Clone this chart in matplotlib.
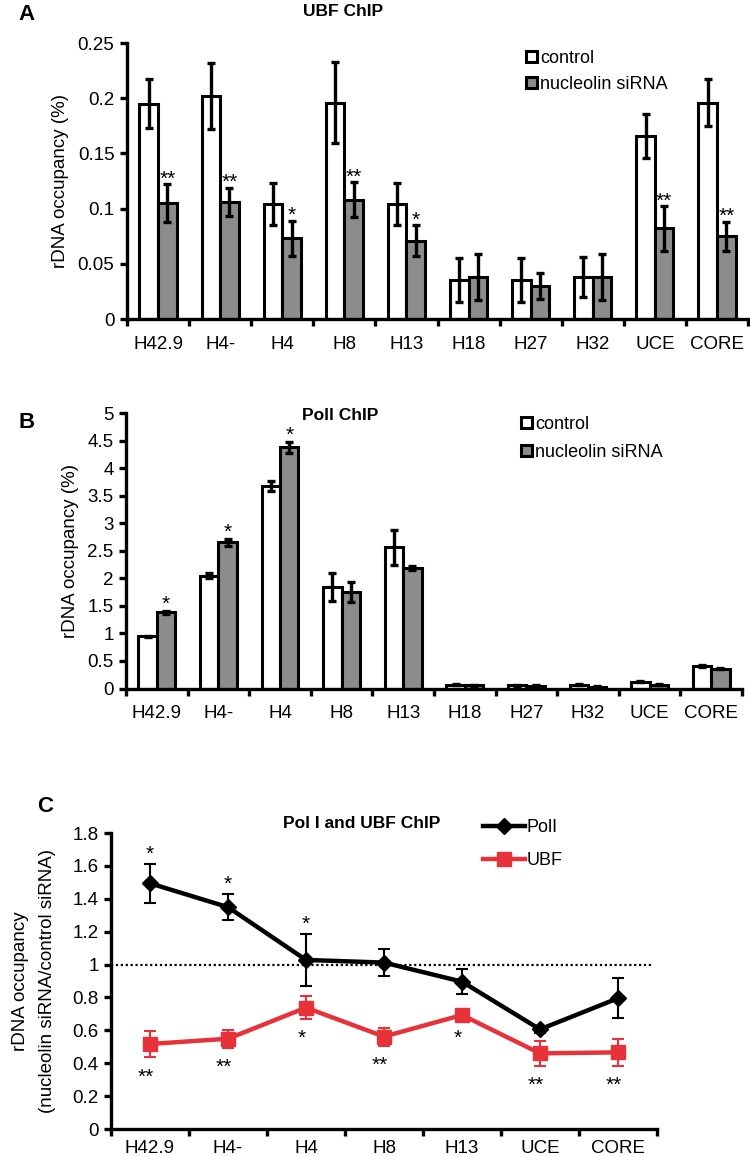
import matplotlib
matplotlib.use("Agg")
import matplotlib.pyplot as plt
import numpy as np
from matplotlib.ticker import FuncFormatter, FixedLocator
from matplotlib.patches import Patch
from matplotlib.lines import Line2D

plt.rcParams['font.family'] = ['Liberation Sans', 'DejaVu Sans']

# ---------------- data ----------------
cats_ab = ["H42.9", "H4-", "H4", "H8", "H13", "H18", "H27", "H32", "UCE", "CORE"]

ubf_ctrl = [0.195, 0.202, 0.104, 0.196, 0.104, 0.035, 0.035, 0.038, 0.166, 0.196]
ubf_ctrl_err = [0.022, 0.030, 0.019, 0.037, 0.019, 0.020, 0.020, 0.018, 0.020, 0.021]
ubf_sirna = [0.105, 0.106, 0.073, 0.108, 0.071, 0.038, 0.030, 0.038, 0.082, 0.075]
ubf_sirna_err = [0.017, 0.013, 0.016, 0.016, 0.014, 0.021, 0.012, 0.021, 0.020, 0.013]
ubf_sig = ["**", "**", "*", "**", "*", "", "", "", "**", "**"]

pol_ctrl = [0.95, 2.05, 3.68, 1.84, 2.56, 0.07, 0.06, 0.07, 0.12, 0.41]
pol_ctrl_err = [0.01, 0.04, 0.09, 0.25, 0.32, 0.01, 0.01, 0.01, 0.01, 0.02]
pol_sirna = [1.38, 2.65, 4.38, 1.75, 2.19, 0.06, 0.05, 0.03, 0.07, 0.36]
pol_sirna_err = [0.02, 0.06, 0.10, 0.18, 0.04, 0.01, 0.01, 0.01, 0.01, 0.01]
pol_sig = ["*", "*", "*", "", "", "", "", "", "", ""]

cats_c = ["H42.9", "H4-", "H4", "H8", "H13", "UCE", "CORE"]
ratio_pol = [1.494, 1.349, 1.028, 1.012, 0.896, 0.606, 0.795]
ratio_pol_err = [0.12, 0.08, 0.157, 0.08, 0.076, 0.02, 0.122]
ratio_ubf = [0.517, 0.549, 0.738, 0.562, 0.693, 0.460, 0.466]
ratio_ubf_err = [0.08, 0.055, 0.068, 0.055, 0.02, 0.074, 0.08]
ratio_pol_sig = ["*", "*", "*", "", "", "", ""]
ratio_ubf_sig = ["**", "**", "*", "**", "*", "**", "**"]

# ---------------- figure ----------------
W, H = 750, 1157
fig = plt.figure(figsize=(W / 100, H / 100), dpi=100)

def fx(px):
    return px / W

def fy(py):
    return 1 - py / H

def make_ax(l, r, t, b):
    return fig.add_axes([fx(l), fy(b), fx(r) - fx(l), fy(t) - fy(b)])

fmt = FuncFormatter(lambda v, p: ("%g" % round(v, 3)))
GRAY = "#8c8c8c"
RED = "#e8323a"
TICKFS = 13.5
LW = 2.4
STARFS = 15


def style_axes(ax, n):
    for s in ["top", "right"]:
        ax.spines[s].set_visible(False)
    for s in ["left", "bottom"]:
        ax.spines[s].set_linewidth(LW)
    ax.set_xlim(0, n)
    ax.xaxis.set_major_locator(FixedLocator(np.arange(n) + 0.5))
    ax.xaxis.set_minor_locator(FixedLocator(np.arange(n + 1)))
    ax.tick_params(axis="x", which="major", length=0, pad=12, labelsize=TICKFS)
    ax.tick_params(axis="x", which="minor", length=5, width=LW, direction="out")
    ax.tick_params(axis="y", which="major", length=5, width=LW, direction="out",
                   labelsize=TICKFS, pad=4)
    ax.yaxis.set_major_formatter(fmt)


def bar_panel(ax, ctrl, ctrl_err, sirna, sirna_err, sig, ymax, ystep, sig_off):
    n = len(cats_ab)
    x = np.arange(n) + 0.5
    w = 0.3
    ek = dict(ecolor="black", elinewidth=2.4, capsize=3, capthick=2.4)
    ax.bar(x - w / 2, ctrl, w, yerr=ctrl_err, color="white", edgecolor="black",
           linewidth=2.2, error_kw=ek, zorder=2)
    ax.bar(x + w / 2, sirna, w, yerr=sirna_err, color=GRAY, edgecolor="black",
           linewidth=2.2, error_kw=ek, zorder=2)
    for xi, v, e, s in zip(x, sirna, sirna_err, sig):
        if s:
            ax.text(xi + w / 2, v + e + sig_off, s, ha="center", va="bottom", fontsize=STARFS)
    style_axes(ax, n)
    ax.set_ylim(0, ymax)
    ax.set_yticks(np.arange(0, ymax + ystep / 2, ystep))
    ax.set_xticklabels(cats_ab)
    ax.set_ylabel("rDNA occupancy (%)", fontsize=13.5, labelpad=6)


# Panel A
axA = make_ax(127, 748, 43, 319)
bar_panel(axA, ubf_ctrl, ubf_ctrl_err, ubf_sirna, ubf_sirna_err, ubf_sig, 0.25, 0.05, -0.004)
fig.text(fx(18), fy(15), "A", fontsize=16, fontweight="bold", va="center", ha="left")
fig.text(fx(343), fy(12), "UBF ChIP", fontsize=12.5, fontweight="bold", va="center", ha="center")
hA = [Patch(facecolor="white", edgecolor="black", linewidth=2.2, label="control"),
      Patch(facecolor=GRAY, edgecolor="black", linewidth=2.2, label="nucleolin siRNA")]
axA.legend(handles=hA, loc="upper left", bbox_to_anchor=(fx(526), fy(50)),
           bbox_transform=fig.transFigure, frameon=False, fontsize=13,
           handlelength=0.6, handleheight=0.6, handletextpad=0.2, labelspacing=0.5,
           borderpad=0, borderaxespad=0)

# Panel B
axB = make_ax(126, 742, 413, 688.5)
bar_panel(axB, pol_ctrl, pol_ctrl_err, pol_sirna, pol_sirna_err, pol_sig, 5, 0.5, -0.05)
fig.text(fx(18), fy(422), "B", fontsize=16, fontweight="bold", va="center", ha="left")
fig.text(fx(340), fy(415), "Poll ChIP", fontsize=12.5, fontweight="bold", va="center", ha="center")
axB.legend(handles=hA, loc="upper left", bbox_to_anchor=(fx(521), fy(416)),
           bbox_transform=fig.transFigure, frameon=False, fontsize=13,
           handlelength=0.6, handleheight=0.6, handletextpad=0.2, labelspacing=0.6,
           borderpad=0, borderaxespad=0)

# Panel C
axC = make_ax(111, 657, 833, 1129)
nC = len(cats_c)
xc = np.arange(nC) + 0.5
axC.axhline(1.0, xmin=0, xmax=0.99, color="black", linestyle=(0, (1, 1.2)), linewidth=1.6, zorder=1)
axC.errorbar(xc, ratio_pol, yerr=ratio_pol_err, color="black", linewidth=3.2,
             marker="D", markersize=8, ecolor="black", elinewidth=1.5, capsize=4,
             capthick=1.5, zorder=3)
axC.errorbar(xc, ratio_ubf, yerr=ratio_ubf_err, color=RED, linewidth=3.2,
             marker="s", markersize=10, ecolor=RED, elinewidth=1.5, capsize=4,
             capthick=1.5, zorder=3)
for xi, v, e, s in zip(xc, ratio_pol, ratio_pol_err, ratio_pol_sig):
    if s:
        axC.text(xi, v + e + 0.0, s, ha="center", va="bottom", fontsize=STARFS)
for xi, v, e, s in zip(xc, ratio_ubf, ratio_ubf_err, ratio_ubf_sig):
    if s:
        axC.text(xi - 0.05, v - e - 0.155, s, ha="center", va="baseline", fontsize=STARFS)
style_axes(axC, nC)
axC.set_ylim(0, 1.8)
axC.set_yticks(np.arange(0, 1.81, 0.2))
axC.set_xticklabels(cats_c)
axC.tick_params(axis="x", which="major", pad=8)
axC.set_ylabel("rDNA occupancy\n(nucleolin siRNA/control siRNA)", fontsize=13.5,
               labelpad=12, linespacing=1.75)
fig.text(fx(37), fy(807), "C", fontsize=16, fontweight="bold", va="center", ha="left")
fig.text(fx(362), fy(823), "Pol I and UBF ChIP", fontsize=12.5, fontweight="bold",
         va="center", ha="center")
hC = [Line2D([0], [0], color="black", linewidth=3.2, marker="D", markersize=8, label="PolI"),
      Line2D([0], [0], color=RED, linewidth=3.2, marker="s", markersize=10, label="UBF")]
axC.legend(handles=hC, loc="upper left", bbox_to_anchor=(fx(483), fy(819)),
           bbox_transform=fig.transFigure, frameon=False, fontsize=13,
           handlelength=2.3, handletextpad=0.1, labelspacing=0.9,
           borderpad=0, borderaxespad=0)

fig.savefig("out.png", dpi=100, facecolor="white")
